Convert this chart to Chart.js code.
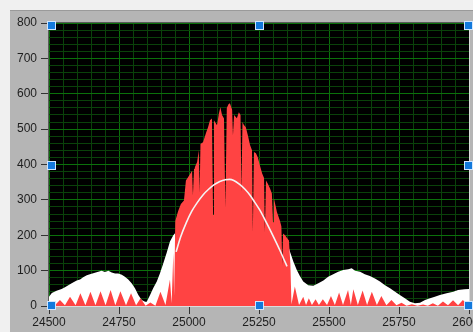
<!DOCTYPE html>
<html>
<head>
<meta charset="utf-8">
<script src="https://cdn.jsdelivr.net/npm/chart.js@4.4.1/dist/chart.umd.min.js"></script>
<style>
  html, body { margin: 0; padding: 0; background: #f0f0f0; }
  canvas { display: block; }
</style>
</head>
<body>
<canvas id="spectrumChart" width="473" height="332"></canvas>
<script>
// white envelope (filled)
const envX = [24500, 24510, 24527, 24545, 24557, 24569, 24581, 24599, 24611, 24622, 24635, 24646, 24664, 24676, 24688, 24700,
  24712, 24724, 24736, 24747, 24760, 24771, 24783, 24795, 24807, 24819, 24831, 24843, 24849, 24861, 24872, 24885, 24896,
  24908, 24920, 24932, 24944, 24950, 24958, 24975, 25320, 25335, 25342, 25352, 25361, 25373, 25385, 25396, 25408, 25426,
  25444, 25462, 25480, 25497, 25515, 25533, 25551, 25569, 25581, 25593, 25611, 25628, 25646, 25664, 25682, 25700, 25718,
  25736, 25753, 25771, 25789, 25807, 25825, 25843, 25861, 25878, 25896, 25920, 25944, 25961, 25984, 26000];
const envY = [26, 37, 43, 48, 53, 59, 64, 72, 75, 81, 87, 90, 94, 97, 100, 96,
  100, 95, 92, 92, 88, 83, 75, 64, 50, 31, 17, 12, 12, 31, 50, 69, 92,
  120, 150, 182, 200, 206, 120, 100, 100, 100, 172, 176, 153, 125, 102, 85, 69, 59,
  57, 64, 72, 83, 90, 97, 102, 104, 107, 100, 97, 90, 85, 78, 69, 59, 50,
  40, 31, 22, 12, 8, 9, 17, 22, 26, 31, 36, 40, 45, 47, 48];

// red spectrum (filled)
const specX = [24500, 24521, 24539, 24557, 24575, 24595, 24612, 24630, 24648, 24666, 24684, 24702, 24720, 24737, 24755, 24775,
  24793, 24811, 24827, 24845, 24862, 24880, 24898, 24916, 24932, 24938, 24944, 24947, 24951, 24961, 24971, 24982, 24989,
  25000, 25011, 25014, 25018, 25021, 25029, 25035, 25038, 25041, 25050, 25061, 25068, 25075, 25082, 25086, 25089, 25100,
  25107, 25112, 25118, 25125, 25130, 25135, 25141, 25146, 25154, 25157, 25161, 25171, 25178, 25184, 25187, 25191, 25196,
  25203, 25211, 25218, 25225, 25228, 25232, 25239, 25246, 25253, 25261, 25268, 25271, 25275, 25282, 25289, 25296, 25300,
  25303, 25314, 25325, 25330, 25333, 25336, 25343, 25350, 25357, 25362, 25366, 25378, 25393, 25408, 25418, 25428, 25439,
  25452, 25464, 25478, 25493, 25507, 25521, 25536, 25550, 25568, 25578, 25587, 25603, 25620, 25636, 25653, 25671, 25687,
  25705, 25723, 25741, 25759, 25777, 25796, 25816, 25836, 25853, 25871, 25889, 25907, 25925, 25943, 25961, 25978, 25996, 26000];
const specY = [4, 2, 17, 2, 26, 2, 36, 2, 40, 2, 42, 2, 45, 2, 42, 2,
  36, 2, 22, 1, 10, 1, 40, 3, 75, 8, 150, 30, 240, 268, 288, 298, 355,
  368, 382, 313, 388, 392, 407, 440, 320, 458, 463, 490, 505, 525, 530, 257, 525, 511,
  545, 562, 540, 530, 277, 560, 570, 573, 555, 483, 540, 531, 548, 540, 322, 520, 512,
  505, 480, 455, 440, 209, 435, 432, 420, 398, 375, 362, 209, 355, 345, 333, 318, 237,
  305, 266, 240, 225, 116, 205, 200, 192, 185, 120, 5, 55, 3, 26, 3, 22, 3,
  19, 3, 19, 3, 28, 3, 38, 3, 45, 3, 47, 3, 44, 3, 40, 3, 28,
  2, 17, 2, 9, 1, 5, 1, 4, 1, 8, 1, 13, 2, 16, 2, 17, 3, 5];

// fitted curve (white line)
const fitX = [24954, 24970, 24990, 25010, 25030, 25050, 25070, 25090, 25110, 25130, 25145, 25160, 25182, 25200, 25218,
  25235, 25253, 25277, 25301, 25325, 25340, 25350];
const fitY = [153, 195, 235, 268, 293, 314, 330, 343, 352, 357, 358, 355, 343, 330, 313,
  293, 271, 235, 197, 157, 130, 112];

const xTicks = [24500, 24750, 25000, 25250, 25500, 25750, 26000];
const yTicks = [0, 100, 200, 300, 400, 500, 600, 700, 800];

const majorGrid = '#0b700b';
const minorGrid = '#0a420a';

function pts(xs, ys) {
  return xs.map((x, i) => ({ x: x, y: ys[i] }));
}

// gray panel + black plot background
const panelPlugin = {
  id: 'panel',
  beforeDraw(chart) {
    const c = chart.ctx, a = chart.chartArea;
    c.save();
    c.fillStyle = '#f0f0f0';
    c.fillRect(0, 0, chart.width, chart.height);
    c.fillStyle = '#b5b5b5';
    c.fillRect(10, 10, chart.width - 10, chart.height - 10);
    c.fillStyle = '#9a9a9a';
    c.fillRect(10, 10, chart.width - 10, 1);
    c.fillStyle = '#000000';
    c.fillRect(a.left, a.top, a.right - a.left, a.bottom - a.top);
    c.restore();
  },
  afterDraw(chart) {
    const c = chart.ctx, a = chart.chartArea;
    c.save();
    c.fillStyle = '#5a5a5a';
    c.fillRect(a.left - 1, a.top - 1, a.right - a.left + 2, 1);
    c.fillRect(a.left - 1, a.top - 1, 1, a.bottom - a.top + 2);
    c.fillStyle = '#dcdcdc';
    c.fillRect(a.left - 1, a.bottom, a.right - a.left + 2, 1);
    c.fillRect(a.right, a.top - 1, 1, a.bottom - a.top + 2);
    // selection handles
    const xs = [a.left + 1.5, (a.left + a.right) / 2, a.right - 1.5];
    const ys = [a.top + 1.5, (a.top + a.bottom) / 2, a.bottom - 1.5];
    xs.forEach((hx, i) => ys.forEach((hy, j) => {
      if (i === 1 && j === 1) return;
      c.fillStyle = '#cfe6ff';
      c.fillRect(Math.round(hx) - 4, Math.round(hy) - 4, 9, 9);
      c.fillStyle = '#1279dc';
      c.fillRect(Math.round(hx) - 3, Math.round(hy) - 3, 7, 7);
    }));
    c.restore();
  }
};

new Chart(document.getElementById('spectrumChart'), {
  type: 'line',
  data: {
    datasets: [{
      data: pts(envX, envY),
      order: 3,
      borderColor: 'transparent',
      backgroundColor: '#ffffff',
      fill: 'origin',
      pointRadius: 0,
      tension: 0
    }, {
      data: pts(specX, specY),
      order: 2,
      borderColor: 'transparent',
      backgroundColor: '#ff4343',
      fill: 'origin',
      pointRadius: 0,
      tension: 0
    }, {
      data: pts(fitX, fitY),
      order: 1,
      borderColor: '#f4f4f4',
      borderWidth: 1.6,
      fill: false,
      pointRadius: 0,
      cubicInterpolationMode: 'monotone'
    }]
  },
  options: {
    responsive: false,
    devicePixelRatio: 1,
    animation: false,
    layout: { padding: { left: 0, right: 4, top: 23, bottom: 0 } },
    plugins: { legend: { display: false }, tooltip: { enabled: false } },
    scales: {
      x: {
        type: 'linear',
        min: 24500,
        max: 26000,
        border: { display: false },
        grid: {
          color: ctx => ctx.tick && xTicks.includes(ctx.tick.value) ? majorGrid : minorGrid,
          tickColor: ctx => ctx.tick && xTicks.includes(ctx.tick.value) ? '#333333' : 'transparent',
          tickLength: 8
        },
        ticks: {
          stepSize: 50,
          autoSkip: false,
          maxRotation: 0,
          minRotation: 0,
          padding: 1,
          color: '#1e1e1e',
          font: { family: 'Liberation Sans', size: 12 },
          callback: v => xTicks.includes(v) ? String(v) : ''
        },
        afterFit: s => { s.height = 26; s.paddingLeft = 0; s.paddingRight = 0; }
      },
      y: {
        min: 0,
        max: 800,
        border: { display: false },
        grid: {
          color: ctx => ctx.tick && yTicks.includes(ctx.tick.value) ? majorGrid : minorGrid,
          tickColor: ctx => ctx.tick && yTicks.includes(ctx.tick.value) ? '#333333' : 'transparent',
          tickLength: 8
        },
        ticks: {
          stepSize: 20,
          autoSkip: false,
          padding: 4,
          color: '#1e1e1e',
          font: { family: 'Liberation Sans', size: 12 },
          callback: v => yTicks.includes(v) ? String(v) : ''
        },
        afterFit: s => { s.width = 49; }
      }
    }
  },
  plugins: [panelPlugin]
});
</script>
</body>
</html>
